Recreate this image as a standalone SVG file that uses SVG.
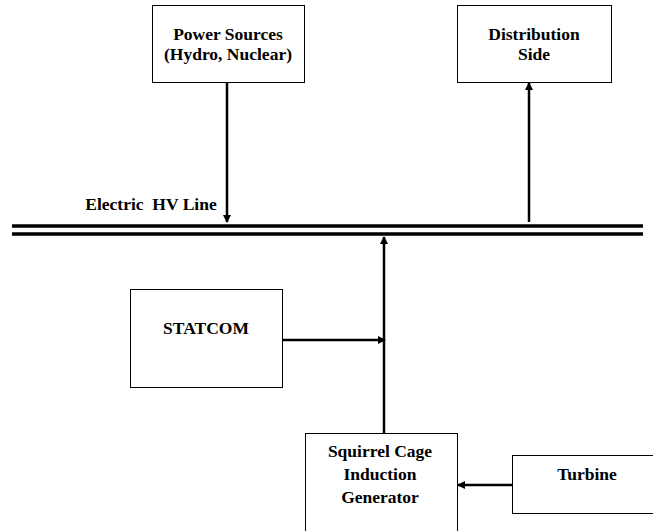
<svg xmlns="http://www.w3.org/2000/svg" width="653" height="531" viewBox="0 0 653 531">
<defs>
<style>
.box{fill:#fff;stroke:#000;stroke-width:1}
.t{font-family:"Liberation Serif","Times New Roman",serif;font-weight:bold;font-size:17.5px;fill:#000;text-anchor:middle}
.c{stroke:#000;stroke-width:2.5;fill:none}
.hv{stroke:#000;stroke-width:3.5}
</style>
<marker id="ah" markerWidth="8" markerHeight="8" refX="7" refY="4" orient="auto" markerUnits="userSpaceOnUse">
<path d="M0,0 L8,4 L0,8 z" fill="#000"/>
</marker>
</defs>
<rect width="653" height="531" fill="#fff"/>
<g id="hvline">
<line class="hv" x1="12" y1="226" x2="643" y2="226"/>
<line class="hv" x1="12" y1="234" x2="643" y2="234"/>
<text class="t" x="151" y="210">Electric&#160; HV Line</text>
</g>
<g id="power">
<rect class="box" x="152.5" y="5.5" width="152" height="77"/>
<text class="t" x="228" y="40">Power Sources</text>
<text class="t" x="228" y="60">(Hydro, Nuclear)</text>
</g>
<g id="distribution">
<rect class="box" x="457.5" y="5.5" width="154" height="77"/>
<text class="t" x="534" y="40">Distribution</text>
<text class="t" x="534" y="60">Side</text>
</g>
<g id="statcom">
<rect class="box" x="130.5" y="289.5" width="152" height="98"/>
<text class="t" x="206" y="334">STATCOM</text>
</g>
<g id="scig">
<rect class="box" x="305.5" y="433.5" width="152" height="105"/>
<text class="t" x="380" y="457">Squirrel Cage</text>
<text class="t" x="380" y="480">Induction</text>
<text class="t" x="380" y="503">Generator</text>
</g>
<g id="turbine">
<rect class="box" x="512.5" y="455.5" width="145" height="58"/>
<text class="t" x="587" y="480">Turbine</text>
</g>
<g id="connectors">
<line class="c" x1="227" y1="82" x2="227" y2="222" marker-end="url(#ah)"/>
<line class="c" x1="529" y1="222" x2="529" y2="83" marker-end="url(#ah)"/>
<line class="c" x1="384" y1="433" x2="384" y2="237" marker-end="url(#ah)"/>
<line class="c" x1="283" y1="340" x2="385" y2="340" marker-end="url(#ah)"/>
<line class="c" x1="512" y1="485" x2="458" y2="485" marker-end="url(#ah)"/>
</g>
</svg>
